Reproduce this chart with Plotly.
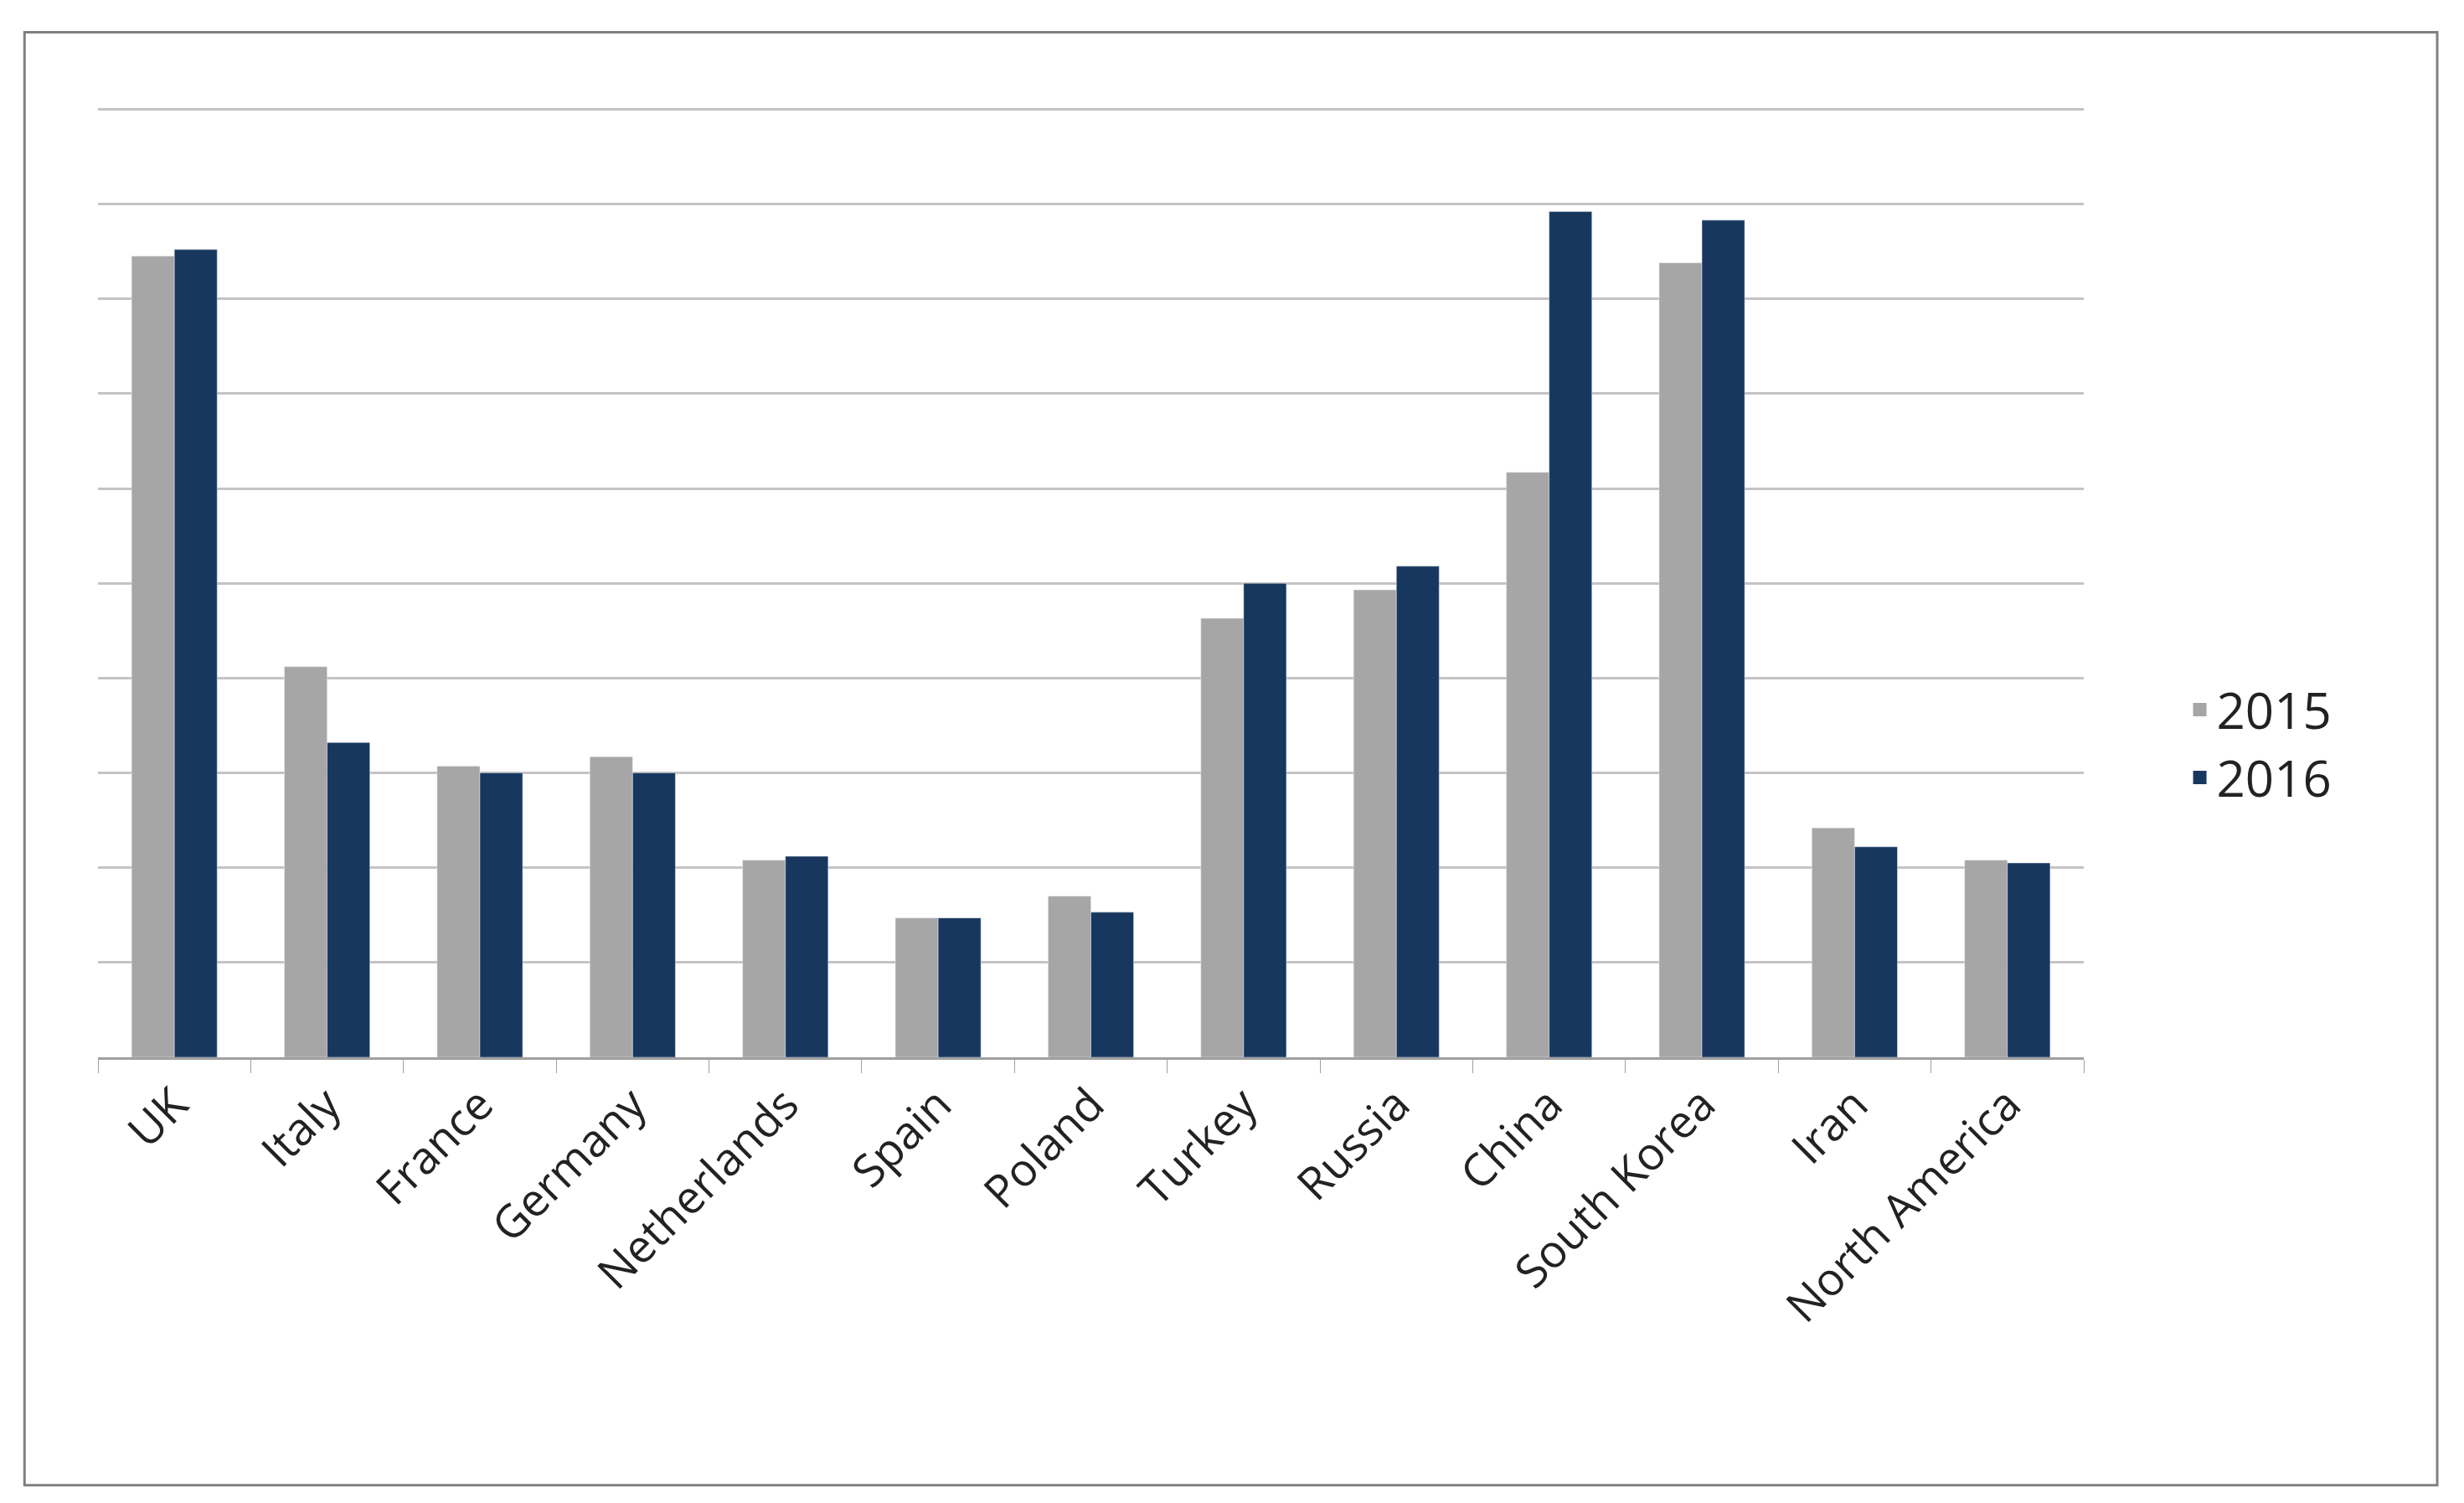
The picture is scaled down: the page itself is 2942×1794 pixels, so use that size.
import plotly.graph_objects as go

countries = ["UK", "Italy", "France", "Germany", "Netherlands", "Spain", "Poland",
             "Turkey", "Russia", "China", "South Korea", "Iran", "North America"]
y2015 = [8.45, 4.12, 3.07, 3.17, 2.08, 1.47, 1.70, 4.63, 4.93, 6.17, 8.38, 2.42, 2.08]
y2016 = [8.52, 3.32, 3.00, 3.00, 2.12, 1.47, 1.53, 5.00, 5.18, 8.92, 8.83, 2.22, 2.05]
series = [("2015", y2015, "#a6a6a6"), ("2016", y2016, "#17375e")]

fig = go.Figure()
for name, vals, col in series:
    fig.add_bar(x=countries, y=vals, name=name, marker_color=col, showlegend=False)
# legend entries with bigger square swatches
for name, vals, col in series:
    fig.add_scatter(x=[None], y=[None], mode="markers", name=name,
                    marker=dict(symbol="square", size=36, color=col))

fig.update_layout(
    width=2942, height=1794,
    margin=dict(l=109, r=462, t=119, b=540),
    paper_bgcolor="white", plot_bgcolor="white",
    barmode="group", bargap=0.44, bargroupgap=0,
    font=dict(family="Open Sans", color="#222222"),
    legend=dict(x=1.05, y=0.33, yanchor="middle", xanchor="left",
                font=dict(size=60), tracegroupgap=60),
    shapes=[dict(type="rect", xref="paper", yref="paper",
                 x0=-0.037, x1=1.178, y0=-0.45, y1=1.078,
                 line=dict(color="#808080", width=3))],
)
fig.update_xaxes(tickangle=-45, tickfont=dict(size=54), ticks="outside",
                 tickson="boundaries", ticklen=16, tickcolor="#a0a0a0",
                 showline=True, linecolor="#a0a0a0", linewidth=3)
fig.update_yaxes(range=[0, 10.03], dtick=1, showticklabels=False,
                 gridcolor="#c4c4c4", gridwidth=3, zeroline=False, showline=False)

fig.write_html("out.html")
